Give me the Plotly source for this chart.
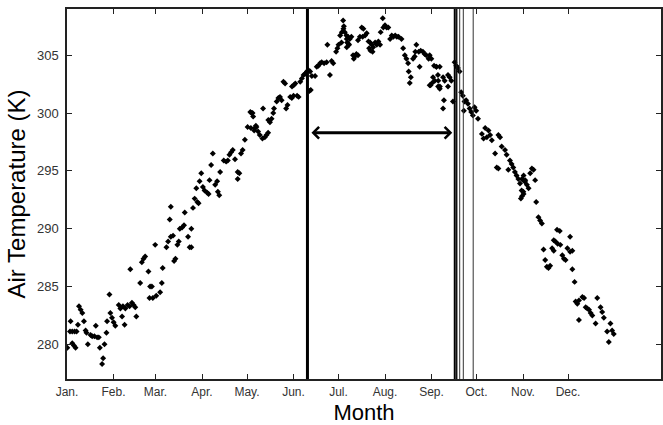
import plotly.graph_objects as go

# ---------------- data ----------------
month_ticks = [0, 31, 59, 90, 120, 151, 181, 212, 243, 273, 304, 334]
month_labels = ["Jan.", "Feb.", "Mar.", "Apr.", "May.", "Jun.", "Jul.", "Aug.",
                "Sep.", "Oct.", "Nov.", "Dec."]
temp_ticks = [280, 285, 290, 295, 300, 305]

# day of year (Jan 1 = 0) and daily air temperature (K)
day = [
    0.2, 2.0, 2.4, 3.5, 3.5, 4.6, 5.1, 5.7, 6.4, 7.3, 8.0, 9.1, 10.2, 11.3, 12.4, 13.0, 13.9,
    15.7, 16.8, 18.3, 19.2, 20.1, 21.2, 21.9, 23.4, 24.1, 25.0, 26.3, 26.7, 28.3, 28.9, 30.0,
    31.1, 32.2, 34.5, 35.6, 36.7, 37.3, 38.4, 38.9, 40.4, 41.7, 42.2, 43.3, 44.4, 45.5, 46.2,
    48.8, 49.9, 51.0, 52.1, 54.3, 55.0, 55.4, 56.6, 57.2, 58.8, 59.5, 62.1, 63.2, 63.8,
    66.3, 67.4, 68.5, 69.2, 69.2, 70.7, 71.4, 72.3, 73.6, 74.5, 75.2, 76.7, 78.0, 78.5, 80.7,
    81.8, 82.9, 82.9, 84.0, 85.1, 86.2, 86.9, 87.7, 88.4, 89.5, 90.6, 91.7, 93.5, 94.4, 95.0,
    96.1, 97.2, 98.8, 100.1, 100.6, 101.5, 102.1, 104.5, 106.1, 107.2, 108.3, 109.4, 110.5,
    112.0, 113.8, 113.8, 114.9, 116.0, 117.1, 118.6, 120.4, 122.2, 122.6, 123.7, 124.8, 125.9,
    123.0, 124.1, 125.2, 126.3, 127.4, 128.5, 130.7, 130.3, 131.9, 133.0, 134.1, 134.2, 135.3,
    136.4, 137.5, 138.0, 139.8, 140.9, 142.0, 143.1, 144.3, 145.4, 146.1, 147.0, 148.8, 149.9,
    151.0, 150.0, 151.1, 152.2, 153.4, 154.4, 155.5, 156.6, 157.7, 158.8, 159.9, 161.0, 162.1,
    161.6, 162.5, 163.2, 165.4, 166.5, 167.6, 168.7, 169.8, 171.4, 173.1, 175.3, 176.4, 177.5,
    173.6, 179.4, 180.3, 181.0, 182.1, 183.2, 184.3, 186.5, 187.6, 186.5,
    184.1, 184.6, 185.2, 186.3, 183.0, 187.4, 188.5, 189.6, 186.8, 188.1, 190.7, 191.8, 192.9,
    194.0, 191.2, 194.0, 196.5, 197.6, 195.3, 197.1, 198.7, 199.8, 201.0, 202.1, 203.2, 201.4,
    202.3, 203.7, 204.1, 205.4, 206.5, 207.6, 208.7, 209.1, 210.5, 210.9, 212.0, 213.1, 214.2,
    215.4, 216.5, 217.6, 218.8, 219.9, 221.0, 223.0, 224.1, 225.2, 226.3, 227.4, 227.8, 229.2,
    228.5, 230.7, 231.8, 232.2, 232.9, 234.5, 235.8, 237.3, 238.4, 239.5, 241.1, 235.1, 242.4,
    246.2, 247.3, 247.5, 248.6,
    241.8, 242.9, 244.7, 246.3, 248.5, 244.0, 245.2, 243.4, 241.8, 247.4, 248.5, 250.7, 251.8,
    254.0, 255.1, 256.2, 254.0, 251.3, 250.7, 257.3, 258.4, 259.5, 260.6, 261.7, 262.8, 263.9,
    265.0, 266.1, 267.3, 264.6, 268.4, 269.5, 271.7, 272.8, 270.6, 274.0, 276.6, 278.8, 281.0,
    279.9, 277.7, 282.1, 283.2, 287.6, 288.7, 285.4, 286.5, 287.6, 289.8, 292.0, 293.1, 295.3,
    296.4, 297.5, 294.2, 298.6, 299.7, 300.9, 302.0, 304.2, 305.3, 303.1, 304.2, 302.6,
    303.3, 304.4, 305.5, 306.6, 307.7, 308.8, 309.9, 311.0, 312.1, 303.3, 304.4, 312.8, 314.3,
    315.4, 316.6, 326.7, 328.5, 324.5, 325.6, 327.1, 328.9, 317.7, 323.4, 324.5, 335.4, 333.6,
    335.4, 336.9, 330.2, 331.3, 332.4, 318.8, 319.9, 321.0, 322.1, 336.9, 338.4, 339.1, 340.2,
    341.3, 343.6, 344.7, 345.8, 346.9, 348.0, 349.1, 350.2, 353.5, 355.7, 356.8, 357.9, 341.3,
    352.4, 362.3, 360.1, 363.4, 364.5, 361.2,
]
temp = [
    279.7, 281.1, 282.0, 281.1, 280.1, 279.9, 281.1, 279.7, 281.1, 281.7, 283.3, 283.0, 282.7,
    282.0, 281.2, 281.0, 280.0, 280.8, 280.7, 280.7, 281.6, 280.6, 280.6, 279.7, 278.3, 278.8,
    280.0, 281.0, 282.0, 284.3, 282.7, 282.3, 281.9, 281.6, 283.4, 283.1, 282.4, 283.3, 281.7,
    283.1, 283.4, 283.3, 286.5, 283.6, 283.4, 283.2, 282.4, 285.3, 287.1, 287.4, 287.6, 286.3,
    284.0, 285.0, 285.0, 284.0, 288.6, 284.2, 284.5, 285.3, 286.6,
    288.4, 288.9, 290.8, 289.3, 291.9, 289.4, 287.2, 287.4, 288.6, 288.9, 290.0, 290.1, 290.3,
    291.4, 289.3, 288.4, 288.4, 290.0, 291.8, 292.6, 293.5, 292.3, 292.2, 294.1, 294.8, 293.6,
    293.3, 293.1, 293.0, 294.2, 295.5, 296.5, 293.8, 294.1, 293.2, 292.9, 294.9, 295.9, 295.8,
    295.9, 296.4, 296.6, 296.8, 296.0, 294.9, 294.3, 294.8, 296.5, 296.8, 297.7, 298.8, 300.1,
    298.7, 300.0, 298.5, 298.9,
    300.0, 299.7, 298.7, 298.8, 298.4, 298.1, 300.4, 297.8, 297.9, 298.1, 298.3, 299.4, 299.2,
    299.5, 300.0, 300.4, 301.0, 301.3, 301.4, 301.1, 302.7, 302.55, 300.4, 300.7, 301.4, 301.3,
    301.5, 302.3, 302.4, 302.55, 301.5, 301.4, 302.7, 303.0, 303.3, 303.4, 303.6, 303.7, 303.6,
    301.9, 302.0, 303.2, 303.2, 304.0, 304.1, 304.3, 304.4, 304.3, 304.4, 303.3, 304.5, 304.3,
    305.9, 305.3, 305.6, 305.9, 306.7, 307.0, 307.3, 306.4, 306.0, 305.7,
    308.0, 307.5, 307.0, 306.7, 306.1, 306.6, 306.4, 306.6, 306.1, 305.9, 305.0, 304.9, 305.1,
    305.0, 304.7, 306.3, 307.4, 307.3, 306.6, 306.6, 306.7, 306.9, 306.2, 306.1, 305.9, 305.6,
    305.4, 305.3, 305.7, 306.1, 305.9, 306.2, 305.9, 307.0, 308.2, 307.4, 307.6, 307.4, 307.4,
    306.4, 306.7, 306.6, 306.7, 306.6, 306.6, 306.4, 305.6, 305.0, 304.7, 304.3, 303.6, 303.1,
    302.6, 304.7, 304.9, 305.3, 305.9, 305.3, 305.4, 305.3, 305.1, 305.0, 304.7, 304.0, 302.4,
    304.0, 303.3, 302.8, 302.3,
    305.0, 304.7, 304.1, 304.0, 304.0, 303.1, 302.8, 302.6, 302.4, 302.3, 302.1, 303.1, 302.8,
    303.3, 303.1, 302.8, 302.3, 301.1, 300.4, 301.0, 304.4, 304.1, 303.9, 303.6, 301.8, 301.5,
    301.0, 301.1, 300.8, 300.2, 300.4, 300.1, 300.5, 300.2, 299.8, 299.5, 298.2, 298.7, 298.5,
    297.9, 297.8, 298.1, 297.65, 298.1, 297.9, 296.5, 295.3, 295.2, 297.1, 296.8, 296.4, 295.9,
    295.6, 295.3, 295.1, 294.9, 294.6, 294.3, 293.9, 294.2, 294.05, 293.3, 293.2, 292.6,
    294.3, 294.6, 294.2, 293.8, 293.5, 294.8, 295.2, 295.1, 294.2, 292.8, 293.0, 292.3, 291.0,
    290.7, 290.45, 289.9, 289.8, 289.0, 288.9, 288.7, 288.6, 288.2, 288.3, 288.1, 289.3, 288.3,
    288.0, 288.1, 287.7, 287.4, 287.3, 287.3, 286.7, 286.6, 286.8, 286.5, 285.4, 283.7, 283.5,
    283.8, 284.1, 284.0, 283.2, 283.1, 283.0, 282.7, 282.5, 284.0, 283.2, 282.8, 282.3, 282.1,
    281.8, 281.8, 281.1, 281.2, 280.9, 280.2,
]

# event markers (day of year)
june_event_day = 160.3
sept_event_days = [258.5, 259.8, 261.8, 264.2, 270.8]
arrow_temp = 298.3

# ---------------- figure ----------------
fig = go.Figure()
fig.add_trace(go.Scatter(
    x=day, y=temp, mode="markers",
    marker=dict(symbol="diamond", size=4.6, color="black", line=dict(width=0)),
    hoverinfo="skip", showlegend=False,
))

# vertical event lines
fig.add_vline(x=june_event_day, line=dict(color="black", width=3))
sept_styles = [(2, "black"), (1.5, "#111111"), (1, "#333333"), (1, "#333333"), (1, "#333333")]
for d, (w, c) in zip(sept_event_days, sept_styles):
    fig.add_vline(x=d, line=dict(color=c, width=w))

# double-headed arrow between the events
fig.add_annotation(
    x=sept_event_days[0], y=arrow_temp, ax=june_event_day, ay=arrow_temp,
    xref="x", yref="y", axref="x", ayref="y", text="",
    showarrow=True, arrowhead=4, startarrowhead=4, arrowside="end+start",
    arrowwidth=3, arrowsize=0.75, startarrowsize=0.75,
    standoff=2.5, startstandoff=2.5, arrowcolor="black",
)

axis_common = dict(
    showline=True, linecolor="#222222", linewidth=1.5, mirror="ticks",
    ticks="inside", ticklen=5, tickcolor="#222222", tickwidth=1,
    showgrid=False, zeroline=False,
)

fig.update_xaxes(
    range=[0, 396], tickmode="array", tickvals=month_ticks, ticktext=month_labels,
    tickfont=dict(size=12, color="#333333", family="Liberation Sans, Arial"),
    ticklabelstandoff=1,
    title=dict(text="Month", font=dict(size=22, color="black", family="Liberation Sans, Arial"),
               standoff=7),
    **axis_common,
)
fig.update_yaxes(
    range=[277, 309], tickmode="array", tickvals=temp_ticks,
    tickfont=dict(size=13, color="#333333", family="Liberation Sans, Arial"),
    ticklabelstandoff=4,
    title=dict(text="Air Temperature (K)",
               font=dict(size=24, color="black", family="Liberation Sans, Arial"),
               standoff=5),
    **axis_common,
)

fig.update_layout(
    width=663, height=425,
    margin=dict(l=67, r=2, t=9, b=46, autoexpand=False),
    paper_bgcolor="white", plot_bgcolor="white",
    showlegend=False,
)

fig.write_html("out.html")
